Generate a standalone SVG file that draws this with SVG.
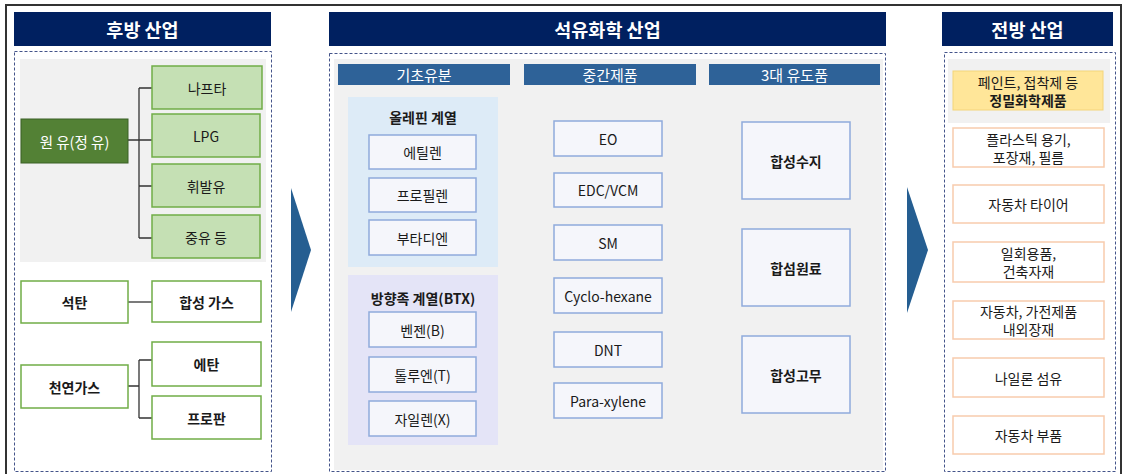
<svg xmlns="http://www.w3.org/2000/svg" width="1122" height="474" viewBox="0 0 1122 474">
<style>
text{font-family:"Noto Sans CJK KR","Noto Sans",sans-serif;text-anchor:middle;dominant-baseline:central;fill:#1a1a1a;font-size:14px}
.hd{fill:#002060}
.hdt{fill:#fff;font-size:18.5px;font-weight:bold}
.dash{fill:#fff;stroke:#44548a;stroke-width:1;stroke-dasharray:3 2}
.gray{fill:#f1f1f1}
.gbox{fill:#c5e0b4;stroke:#70ad47;stroke-width:1.5}
.wgbox{fill:#fff;stroke:#70ad47;stroke-width:1.5}
.sub{fill:#2e6298}
.subt{fill:#fff;font-size:15px}
.bbox{fill:#f5f6fb;stroke:#8faadc;stroke-width:1.5}
.pbox{fill:#fff;stroke:#f8cbad;stroke-width:1.5}
.b{font-weight:bold}
.ln{stroke:#333;stroke-width:1.3;fill:none}
.arr{fill:#255e91}
</style>
<rect x="0" y="0" width="1122" height="474" fill="#fff"/>
<path d="M6 474 V5 H1121 V474" fill="none" stroke="#333" stroke-width="2"/>

<!-- Left panel -->
<g id="left-panel">
<rect class="hd" x="14" y="12" width="257" height="34"/>
<text class="hdt" x="142.5" y="29">후방 산업</text>
<rect class="dash" x="14.5" y="51.5" width="257" height="420"/>
<rect class="gray" x="20" y="59" width="246" height="203"/>
</g>
<g id="connectors">
<path class="ln" d="M128 140 H152 M139 88 V238 M139 88 H152 M139 186 H152 M139 238 H152"/>
<path class="ln" d="M128 302 H152"/>
<path class="ln" d="M128 386 H139 M139 360 V418 M139 360 H152 M139 418 H152"/>
</g>
<g id="crude"><rect x="21" y="119" width="107" height="44" fill="#538135" stroke="#3b6127"/><text x="74.5" y="141" style="fill:#fff;font-size:14.5px">원 유(정 유)</text></g>
<g id="naphtha"><rect class="gbox" x="152" y="66" width="110" height="43"/><text x="207" y="87.5">나프타</text></g>
<g id="lpg"><rect class="gbox" x="152" y="114" width="108" height="43"/><text x="206" y="135.5">LPG</text></g>
<g id="gasoline"><rect class="gbox" x="152" y="164" width="108" height="43"/><text x="206" y="185.5">휘발유</text></g>
<g id="heavy"><rect class="gbox" x="152" y="215" width="108" height="43"/><text x="206" y="236.5">중유 등</text></g>
<g id="coal"><rect class="wgbox" x="21" y="281" width="107" height="42"/><text class="b" x="74.5" y="302">석탄</text></g>
<g id="syngas"><rect class="wgbox" x="152" y="281" width="109" height="41"/><text class="b" x="206.5" y="301.5">합성 가스</text></g>
<g id="natgas"><rect class="wgbox" x="21" y="365" width="107" height="43"/><text class="b" x="74.5" y="386.5">천연가스</text></g>
<g id="ethane"><rect class="wgbox" x="152" y="342" width="109" height="44"/><text class="b" x="206.5" y="364">에탄</text></g>
<g id="propane"><rect class="wgbox" x="152" y="396" width="109" height="43"/><text class="b" x="206.5" y="417.5">프로판</text></g>

<g id="arrow1"><polygon class="arr" points="291,188 311,250 291,312"/></g>
<g id="arrow2"><polygon class="arr" points="907,187 928,250 907,313"/></g>

<!-- Middle panel -->
<g id="mid-panel">
<rect class="hd" x="329" y="12" width="557" height="34"/>
<text class="hdt" x="607.5" y="29">석유화학 산업</text>
<rect class="dash" x="329.5" y="53.5" width="556" height="418"/>
<rect class="gray" x="334" y="59" width="549" height="411"/>
<rect class="sub" x="338" y="64" width="172" height="21"/><text class="subt" x="424" y="74.5" style="fill:#fff">기초유분</text>
<rect class="sub" x="524" y="64" width="172" height="21"/><text class="subt" x="610" y="74.5" style="fill:#fff">중간제품</text>
<rect class="sub" x="709" y="64" width="171" height="21"/><text class="subt" x="794.5" y="74.5" style="fill:#fff">3대 유도품</text>
<rect x="348" y="97" width="150" height="170" fill="#ddebf7"/>
<rect x="348" y="275" width="150" height="170" fill="#e4e4f7"/>
<text class="b" x="423" y="117">올레핀 계열</text>
<text class="b" x="423" y="298">방향족 계열(BTX)</text>
</g>
<g id="ethylene"><rect class="bbox" x="369" y="135" width="107" height="34"/><text x="422.5" y="152">에틸렌</text></g>
<g id="propylene"><rect class="bbox" x="369" y="178" width="107" height="34"/><text x="422.5" y="195">프로필렌</text></g>
<g id="butadiene"><rect class="bbox" x="369" y="220" width="107" height="35"/><text x="422.5" y="237.5">부타디엔</text></g>
<g id="benzene"><rect class="bbox" x="369" y="312" width="107" height="35"/><text x="422.5" y="329.5">벤젠(B)</text></g>
<g id="toluene"><rect class="bbox" x="369" y="357" width="107" height="35"/><text x="422.5" y="374.5">톨루엔(T)</text></g>
<g id="xylene"><rect class="bbox" x="369" y="401" width="107" height="35"/><text x="422.5" y="418.5">자일렌(X)</text></g>
<g id="eo"><rect class="bbox" x="554" y="121" width="108" height="35"/><text x="608" y="138.5">EO</text></g>
<g id="edc"><rect class="bbox" x="554" y="173" width="108" height="34"/><text x="608" y="190">EDC/VCM</text></g>
<g id="sm"><rect class="bbox" x="554" y="225" width="108" height="35"/><text x="608" y="242.5">SM</text></g>
<g id="cyclo"><rect class="bbox" x="554" y="278" width="108" height="35"/><text x="608" y="295.5">Cyclo-hexane</text></g>
<g id="dnt"><rect class="bbox" x="554" y="332" width="108" height="35"/><text x="608" y="349.5">DNT</text></g>
<g id="px"><rect class="bbox" x="554" y="383" width="108" height="35"/><text x="608" y="400.5">Para-xylene</text></g>
<g id="resin"><rect class="bbox" x="742" y="122" width="108" height="77"/><text class="b" x="796" y="160.5">합성수지</text></g>
<g id="fiber"><rect class="bbox" x="742" y="229" width="108" height="77"/><text class="b" x="796" y="267.5">합섬원료</text></g>
<g id="rubber"><rect class="bbox" x="742" y="336" width="108" height="77"/><text class="b" x="796" y="374.5">합성고무</text></g>

<!-- Right panel -->
<g id="right-panel">
<rect class="hd" x="942" y="12" width="171" height="34"/>
<text class="hdt" x="1027.5" y="29">전방 산업</text>
<rect class="dash" x="944.5" y="52.5" width="171" height="419"/>
<rect class="gray" x="948" y="59" width="162" height="64"/>
</g>
<g id="fine"><rect x="953" y="71" width="150" height="39" fill="#ffe699" stroke="#f4d57a"/><text x="1028" y="81.5">페인트, 접착제 등</text><text class="b" x="1028" y="99.5">정밀화학제품</text></g>
<g id="plastic"><rect class="pbox" x="953" y="128" width="151" height="39"/><text x="1028.5" y="138.5">플라스틱 용기,</text><text x="1028.5" y="156.5">포장재, 필름</text></g>
<g id="tire"><rect class="pbox" x="953" y="185" width="151" height="38"/><text x="1028.5" y="204">자동차 타이어</text></g>
<g id="disposable"><rect class="pbox" x="953" y="242" width="151" height="40"/><text x="1028.5" y="252.5">일회용품,</text><text x="1028.5" y="270.5">건축자재</text></g>
<g id="interior"><rect class="pbox" x="953" y="301" width="151" height="38"/><text x="1028.5" y="311">자동차, 가전제품</text><text x="1028.5" y="329">내외장재</text></g>
<g id="nylon"><rect class="pbox" x="953" y="358" width="151" height="39"/><text x="1028.5" y="377.5">나일론 섬유</text></g>
<g id="parts"><rect class="pbox" x="953" y="416" width="151" height="38"/><text x="1028.5" y="435">자동차 부품</text></g>
</svg>
